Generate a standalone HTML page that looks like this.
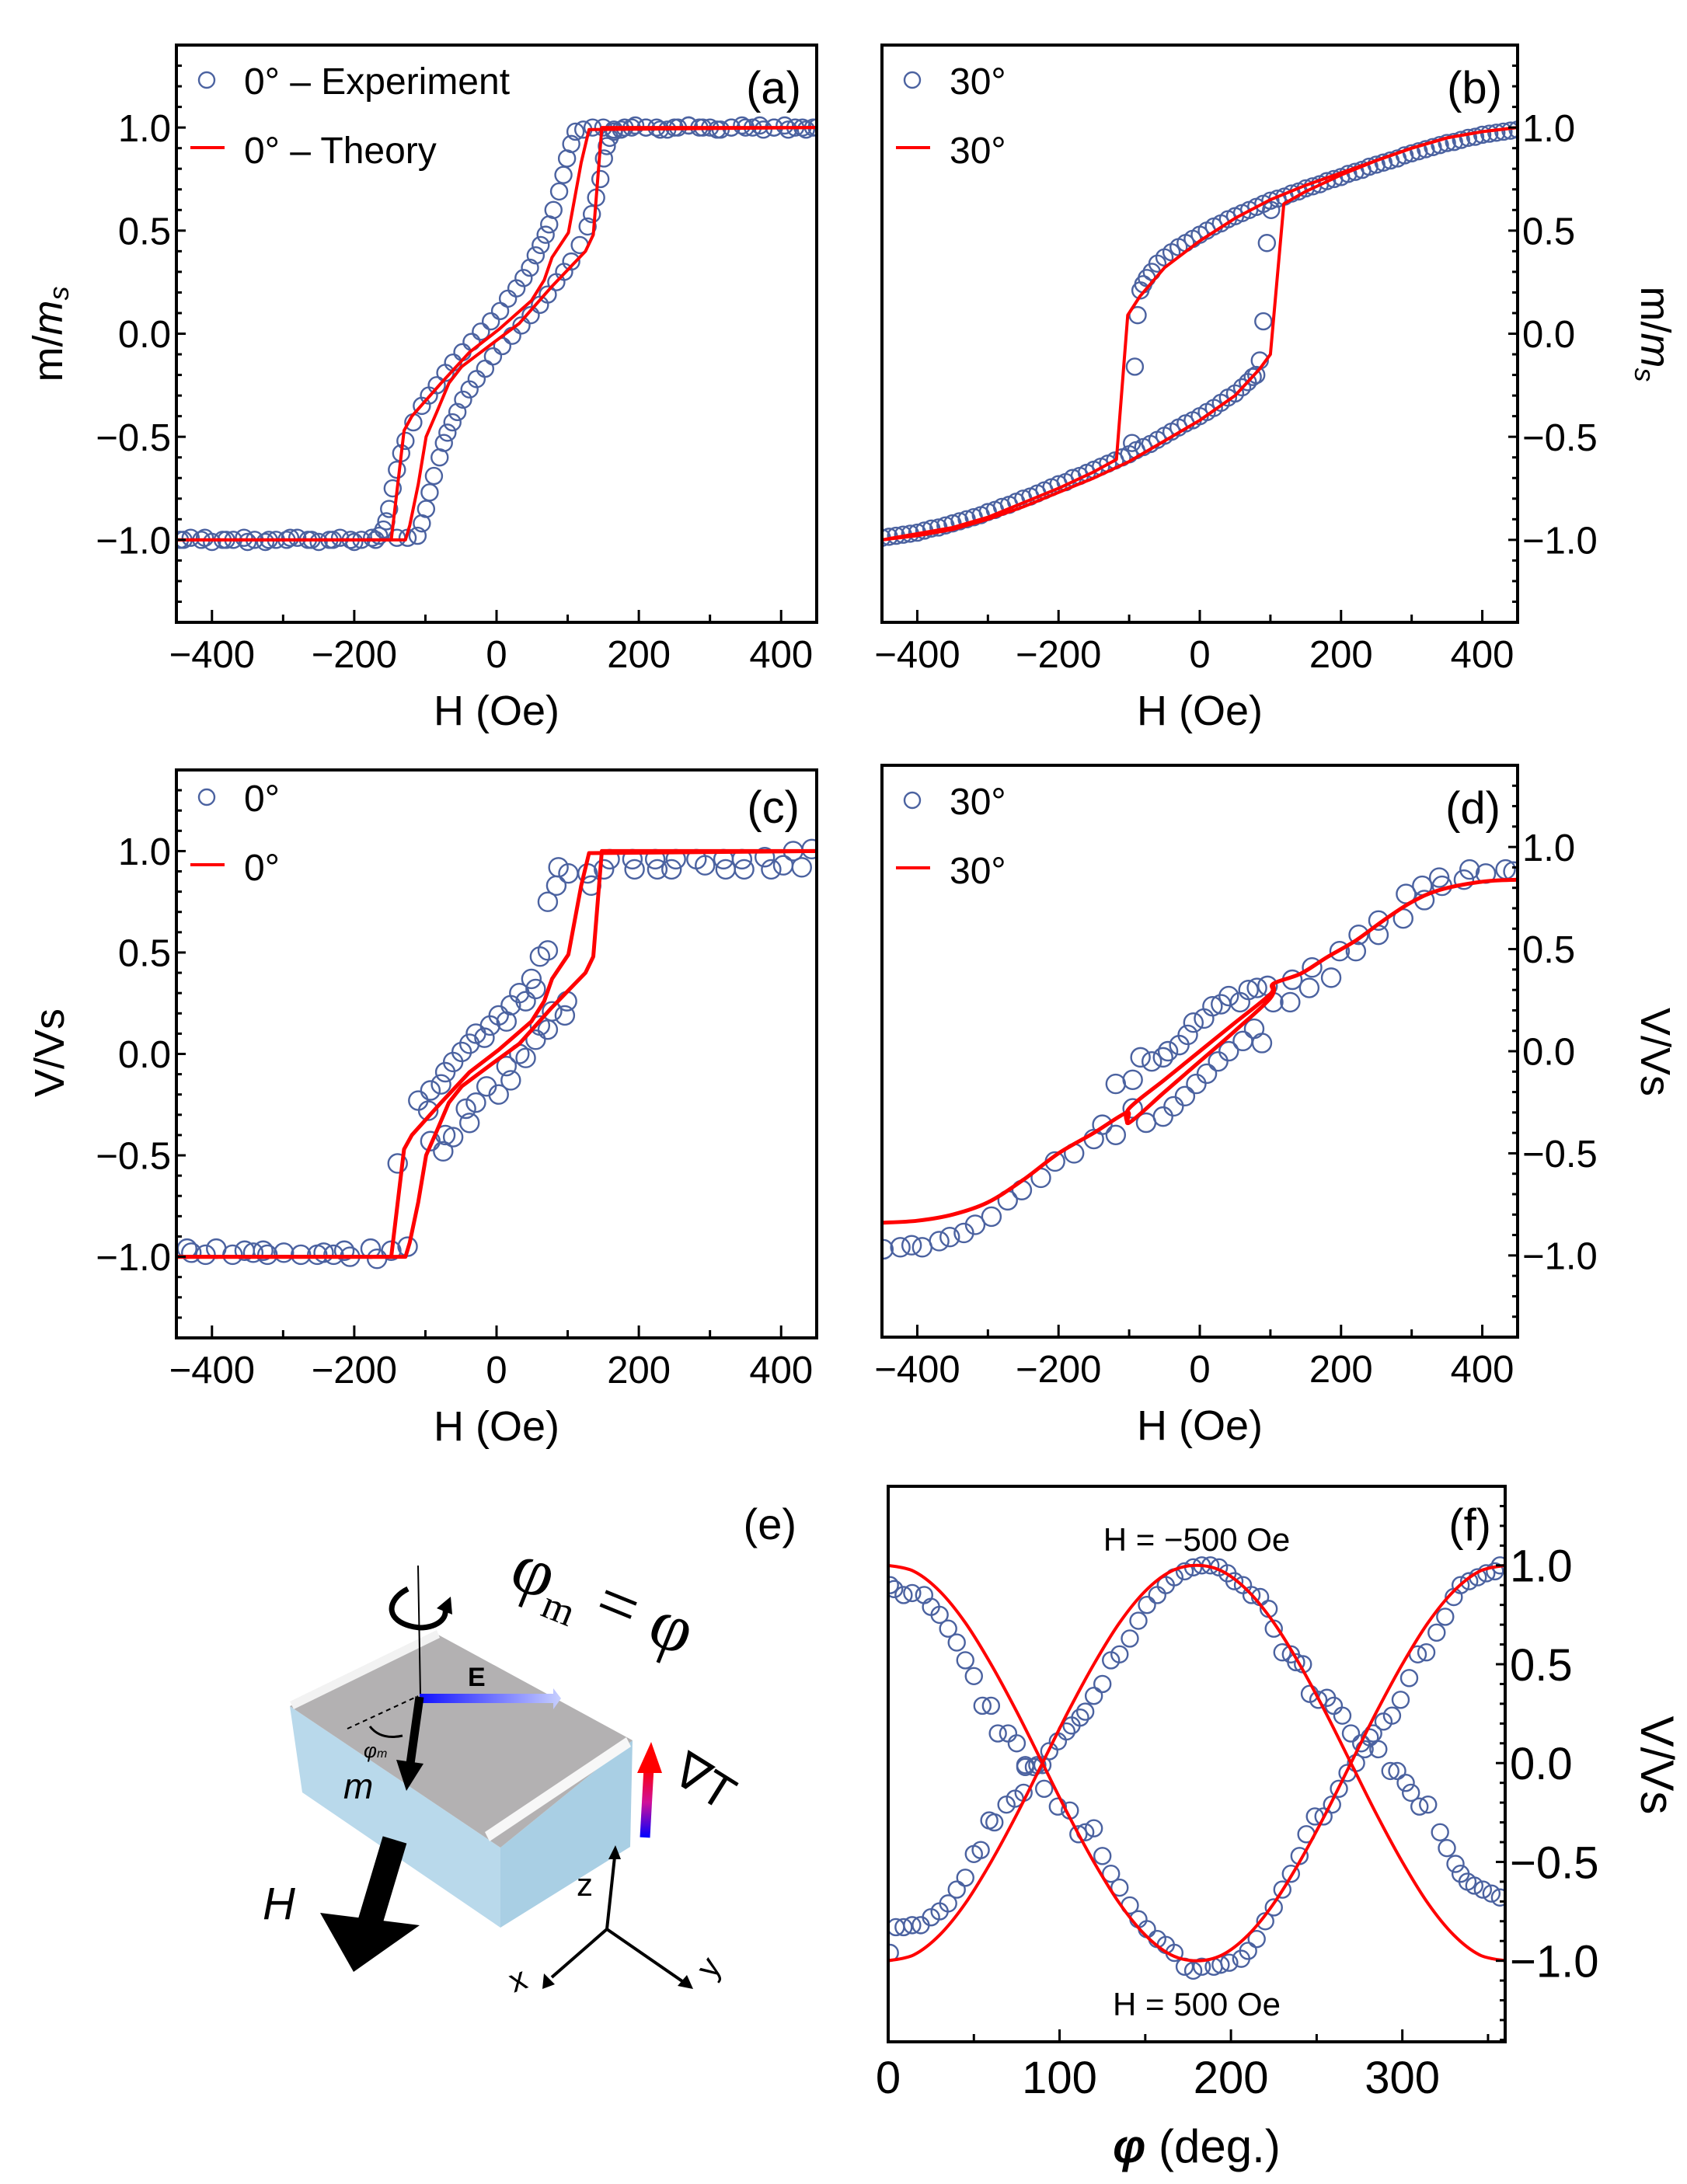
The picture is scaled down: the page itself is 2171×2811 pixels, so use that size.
<!DOCTYPE html>
<html><head><meta charset="utf-8"><title>Magnetization and voltage hysteresis panels</title>
<style>
html,body{margin:0;padding:0;background:#fff;}
svg{display:block;font-family:"Liberation Sans",Arial,sans-serif;}
</style></head>
<body>
<svg id="fig" xmlns="http://www.w3.org/2000/svg" width="2171" height="2811" viewBox="0 0 2171 2811">
<rect x="0" y="0" width="2171" height="2811" fill="#fff"/>
<defs>
<linearGradient id="gE" x1="0" y1="0" x2="1" y2="0"><stop offset="0" stop-color="#1010ff"/><stop offset="1" stop-color="#c8d0ff"/></linearGradient>
<linearGradient id="gT" x1="0" y1="1" x2="0" y2="0"><stop offset="0" stop-color="#0000ff"/><stop offset="0.5" stop-color="#d0109a"/><stop offset="1" stop-color="#ff0000"/></linearGradient>
</defs>
<g id="panel-e">
  <text x="1025" y="1981" font-size="56" text-anchor="end">(e)</text>
  <g transform="translate(652,2040) rotate(22)">
    <text x="0" y="0" font-size="92" font-family="Liberation Serif, serif">φ<tspan font-size="52" dy="20">m</tspan><tspan font-size="92" dy="-20"> = φ</tspan></text>
  </g>
  <polygon points="373,2196 644,2378 644,2481 389,2307" fill="#b9d9eb"/>
  <polygon points="644,2378 814,2240 811,2377 644,2481" fill="#a9cfe4"/>
  <polygon points="373,2196 562,2103 814,2240 644,2378" fill="#b3b1b2"/>
  <polygon points="373,2190 562,2098 566,2108 378,2200" fill="#f2f2f2"/>
  <polygon points="624,2358 806,2236 812,2248 630,2370" fill="#f7f7f7"/>
  <path d="M525,2045 C495,2060 495,2090 540,2095 C565,2095 580,2080 570,2065" fill="none" stroke="#000" stroke-width="7"/>
  <polygon points="562,2070 580,2055 582,2078" fill="#000"/>
  <line x1="538" y1="2015" x2="541" y2="2182" stroke="#000" stroke-width="2"/>
  <line x1="447" y1="2225" x2="538" y2="2183" stroke="#000" stroke-width="2" stroke-dasharray="6,5"/>
  <path d="M476,2222 Q490,2240 518,2234" fill="none" stroke="#000" stroke-width="3"/>
  <text x="468" y="2262" font-size="26" font-style="italic">φ<tspan font-size="16">m</tspan></text>
  <polygon points="540,2180 712,2180 712,2173 722,2186 712,2200 712,2192 540,2192" fill="url(#gE)"/>
  <text x="602" y="2170" font-size="34" font-weight="bold">E</text>
  <line x1="540" y1="2184" x2="528" y2="2270" stroke="#000" stroke-width="11"/>
  <polygon points="510,2265 545,2270 523,2305" fill="#000"/>
  <text x="442" y="2315" font-size="46" font-style="italic">m</text>
  <line x1="508" y1="2368" x2="476" y2="2475" stroke="#000" stroke-width="32"/>
  <polygon points="412,2462 540,2478 455,2538" fill="#000"/>
  <text x="338" y="2470" font-size="58" font-style="italic">H</text>
  <line x1="830" y1="2365" x2="835" y2="2275" stroke="url(#gT)" stroke-width="13"/>
  <polygon points="820,2282 852,2282 838,2242" fill="#ff0000"/>
  <text x="862" y="2290" font-size="62" transform="rotate(32 862 2290)">∇T</text>
  <line x1="781" y1="2483" x2="791" y2="2390" stroke="#000" stroke-width="4"/>
  <polygon points="783,2393 799,2393 792,2375" fill="#000"/>
  <text x="742" y="2440" font-size="42">z</text>
  <line x1="781" y1="2483" x2="710" y2="2545" stroke="#000" stroke-width="4"/>
  <polygon points="700,2540 714,2554 698,2560" fill="#000"/>
  <text x="655" y="2560" font-size="42" transform="rotate(-20 672 2545)">x</text>
  <line x1="781" y1="2483" x2="878" y2="2550" stroke="#000" stroke-width="4"/>
  <polygon points="872,2556 884,2542 892,2560" fill="#000"/>
  <text x="905" y="2545" font-size="42" transform="rotate(-55 915 2535)">y</text>
</g>
</svg>
<script>
// ===== Panel (a) data =====
const aExpDescH = [450,435,420,405,390,375,360,345,330,315,300,285,270,255,240,225,210,195,180,165,150,135,122,111,105,99,94,88,80,74,69,62,55,47,38,28,16,5,-8,-22,-35,-48,-61,-72,-84,-95,-105,-117,-128,-134,-140,-146,-151,-155,-159,-165,-175,-190,-205,-220,-235,-250,-265,-280,-295,-310,-325,-340,-355,-370,-385,-400,-415,-430,-445];
const aExpDescM = [1,0.99,1,1.01,1,0.99,1,1.01,1,0.99,1,1,1.01,1,0.99,1,1,1.01,1,0.99,1,1,0.99,0.98,0.92,0.85,0.77,0.69,0.6,0.53,0.48,0.43,0.38,0.32,0.27,0.22,0.17,0.11,0.06,0.01,-0.04,-0.09,-0.14,-0.19,-0.25,-0.3,-0.35,-0.43,-0.52,-0.58,-0.66,-0.75,-0.85,-0.91,-0.95,-0.98,-0.99,-1,-1,-0.99,-1,-1.01,-1,-0.99,-1,-1,-1.01,-1,-0.99,-1,-1,-1.01,-1,-0.99,-1];
const aExpAscH = [-440,-410,-380,-350,-320,-290,-260,-230,-200,-170,-140,-125,-111,-105,-99,-94,-88,-80,-74,-69,-62,-55,-47,-38,-28,-16,-5,8,22,35,48,61,72,84,95,105,117,128,134,140,146,151,155,159,165,175,190,210,230,250,270,290,310,330,350,370,390,410,430,445];
const aExpAscM = [-1,-0.99,-1,-1.01,-1,-0.99,-1,-1,-1.01,-1,-0.99,-0.99,-0.98,-0.92,-0.85,-0.77,-0.69,-0.6,-0.53,-0.48,-0.43,-0.38,-0.32,-0.27,-0.22,-0.17,-0.11,-0.06,-0.01,0.04,0.09,0.14,0.19,0.25,0.3,0.35,0.43,0.52,0.58,0.66,0.75,0.85,0.91,0.95,0.98,0.99,1,1,0.99,1,1.01,1,0.99,1,1,1.01,1,0.99,1,1];
const aThLeftH = [-450,-148,-130,-119,-78,-38,3,49,67,78,101,119,130,450];
const aThLeftM = [-1,-1,-0.47,-0.40,-0.24,-0.09,0.02,0.16,0.26,0.37,0.49,0.83,0.99,1];
const aThRightH = [450,148,136,125,78,32,-3,-49,-67,-84,-99,-110,-122,-128,-450];
const aThRightM = [1,1,0.48,0.4,0.23,0.05,-0.04,-0.16,-0.24,-0.38,-0.5,-0.73,-0.93,-1,-1];

// ===== Panel (b) data =====
const bExpUpH = [450,440,430,420,410,400,390,380,370,360,350,340,330,320,310,300,290,280,270,260,250,240,230,220,210,200,190,180,170,160,150,140,130,120,110,100,90,80,70,60,50,40,30,20,10,0,-10,-20,-30,-40,-50,-60,-68,-75,-80,-84,-88,-92,-96];
const bExpUpM = [0.99,0.985,0.98,0.975,0.97,0.965,0.955,0.95,0.94,0.93,0.925,0.915,0.905,0.895,0.885,0.875,0.865,0.85,0.84,0.83,0.82,0.81,0.795,0.785,0.775,0.76,0.75,0.74,0.725,0.715,0.705,0.69,0.68,0.665,0.655,0.645,0.63,0.615,0.6,0.585,0.57,0.555,0.535,0.52,0.5,0.48,0.46,0.44,0.42,0.395,0.37,0.34,0.3,0.27,0.24,0.21,0.09,-0.16,-0.53];
const bExpLowH = [-450,-440,-430,-420,-410,-400,-390,-380,-370,-360,-350,-340,-330,-320,-310,-300,-290,-280,-270,-260,-250,-240,-230,-220,-210,-200,-190,-180,-170,-160,-150,-140,-130,-120,-110,-100,-90,-80,-70,-60,-50,-40,-30,-20,-10,0,10,20,30,40,50,60,68,75,80,85,90,95,101];
const bExpLowM = [-0.99,-0.985,-0.98,-0.975,-0.97,-0.965,-0.955,-0.945,-0.94,-0.93,-0.92,-0.91,-0.9,-0.89,-0.88,-0.865,-0.855,-0.84,-0.83,-0.815,-0.8,-0.79,-0.775,-0.76,-0.745,-0.73,-0.72,-0.7,-0.69,-0.675,-0.66,-0.645,-0.63,-0.615,-0.6,-0.585,-0.565,-0.55,-0.535,-0.515,-0.495,-0.475,-0.455,-0.435,-0.42,-0.4,-0.38,-0.36,-0.335,-0.31,-0.29,-0.26,-0.235,-0.21,-0.2,-0.13,0.06,0.44,0.6];
const bThUpH = [450,400,350,300,250,200,150,100,50,0,-50,-85,-102,-118,-150,-200,-250,-300,-350,-400,-450];
const bThUpM = [1,0.98,0.95,0.9,0.84,0.78,0.72,0.65,0.56,0.45,0.32,0.18,0.09,-0.61,-0.67,-0.75,-0.82,-0.89,-0.94,-0.97,-1];
const bThLowH = [-450,-400,-350,-300,-250,-200,-150,-100,-50,0,50,85,100,119,150,200,250,300,350,400,450];
const bThLowM = [-1,-0.98,-0.95,-0.9,-0.84,-0.77,-0.7,-0.62,-0.52,-0.42,-0.3,-0.17,-0.1,0.63,0.69,0.77,0.84,0.9,0.95,0.98,1];

// ===== Panel (c) data =====
const cExpH = [-435,-429,-409,-394,-371,-354,-342,-328,-322,-299,-275,-252,-243,-229,-214,-206,-177,-168,-148,-125,
  159,191,194,223,226,246,252,281,293,319,322,345,348,377,386,403,417,429,443,
  72,84,87,101,128,133,151,
  -110,-96,-93,-78,-72,-61,-49,-38,-29,-17,-9,3,14,20,32,41,49,55,61,72,-139,
  -93,-75,-72,-61,-43,-38,-29,-14,3,14,20,32,41,55,61,72,78,96,99];
const cExpV = [-0.96,-0.98,-0.99,-0.96,-0.99,-0.97,-0.98,-0.97,-0.99,-0.98,-0.99,-0.99,-0.98,-0.99,-0.97,-1.0,-0.96,-1.01,-0.97,-0.95,
  0.96,0.96,0.91,0.96,0.91,0.91,0.96,0.96,0.93,0.96,0.91,0.96,0.91,0.97,0.91,0.93,1.0,0.92,1.01,
  0.75,0.83,0.92,0.89,0.89,0.83,0.91,
  -0.23,-0.28,-0.18,-0.15,-0.09,-0.04,0.01,0.05,0.1,0.08,0.14,0.19,0.16,0.24,0.3,0.26,0.37,0.32,0.48,0.51,-0.54,
  -0.43,-0.48,-0.4,-0.41,-0.27,-0.34,-0.24,-0.16,-0.2,-0.06,-0.13,0,-0.02,0.07,0.14,0.12,0.21,0.19,0.26];
const cThLeftH = [-450,-148,-130,-119,-78,-38,3,49,67,78,101,119,130,450];
const cThLeftV = [-1,-1,-0.47,-0.40,-0.24,-0.09,0.02,0.16,0.26,0.37,0.49,0.83,0.99,1];
const cThRightH = [450,148,136,125,78,32,-3,-49,-67,-84,-99,-110,-122,-128,-450];
const cThRightV = [1,1,0.48,0.4,0.23,0.05,-0.04,-0.16,-0.24,-0.38,-0.5,-0.73,-0.93,-1,-1];

// ===== Panel (d) data =====
const dExpH = [-448,-424,-408,-393,-369,-354,-334,-318,-295,-272,-252,-225,-205,-178,-150,-138,-119,-119,-95,-84,-68,-52,-45,-29,-17,-9,6,18,30,41,57,69,81,96,-95,-76,-52,-37,-21,-5,10,26,41,61,77,88,104,128,131,155,159,186,198,221,225,253,253,288,292,315,318,339,343,374,382,405,433,444];
const dExpV = [-0.97,-0.96,-0.95,-0.96,-0.93,-0.91,-0.89,-0.85,-0.81,-0.73,-0.68,-0.62,-0.54,-0.5,-0.43,-0.36,-0.41,-0.16,-0.14,-0.03,-0.05,-0.03,0,0.03,0.08,0.14,0.16,0.22,0.23,0.27,0.24,0.3,0.31,0.32,-0.28,-0.35,-0.32,-0.27,-0.22,-0.16,-0.11,-0.05,0,0.05,0.11,0.04,0.24,0.24,0.35,0.31,0.41,0.36,0.49,0.49,0.57,0.57,0.64,0.65,0.77,0.81,0.74,0.85,0.81,0.84,0.89,0.87,0.89,0.88];
const dThDescH = [450,400,340,300,260,220,180,143,104,100,50,0,-50,-100,-103];
const dThDescV = [0.84,0.83,0.79,0.73,0.64,0.54,0.46,0.38,0.33,0.28,0.14,0,-0.14,-0.28,-0.35];
const dThAscH = [-450,-400,-350,-300,-250,-200,-150,-103,-100,-50,0,50,100,104];
const dThAscV = [-0.84,-0.83,-0.8,-0.74,-0.63,-0.5,-0.4,-0.3,-0.35,-0.2,-0.05,0.1,0.26,0.33];

// ===== Panel (f) data =====
const fExpAPhi = [1,3.5,9,14,21,25,30,35,40,45,50,55,60,64,70,75,80,87,91,99,106,111,115,120,125,130,135,141,146,151,157,162,167,173,178,183,190,194,199,206,210,215,220,225,230,235,240,244,249,254,259,263,268,273,278,283,289,294,299,304,309,314,320,325,330,334,339,344,349,354,357];
const fExpAV = [0.9,0.88,0.85,0.86,0.85,0.79,0.75,0.68,0.61,0.52,0.44,0.29,0.29,0.15,0.15,0.1,-0.01,-0.01,-0.13,-0.22,-0.24,-0.36,-0.35,-0.33,-0.47,-0.56,-0.63,-0.72,-0.79,-0.84,-0.89,-0.92,-0.96,-1.03,-1.05,-1.03,-1.03,-1.02,-1.01,-0.99,-0.95,-0.89,-0.8,-0.73,-0.64,-0.56,-0.47,-0.36,-0.27,-0.27,-0.21,-0.13,-0.05,0,0.07,0.15,0.21,0.24,0.32,0.43,0.55,0.56,0.66,0.74,0.84,0.9,0.92,0.94,0.96,0.97,1.0];
const fExpBPhi = [1,4.5,9,14,19,25,30,35,40,45,50,54,59,62,69,74,79,80,85,90,94,99,104,107,112,115,120,125,130,135,141,146,151,157,162,167,173,178,183,188,193,198,202,207,212,217,222,225,230,235,238,242,246,251,256,260,265,270,276,281,286,293,297,302,305,310,315,322,326,331,334,338,342,347,352,357];
const fExpBV = [-0.96,-0.83,-0.83,-0.82,-0.82,-0.78,-0.75,-0.71,-0.64,-0.58,-0.46,-0.44,-0.29,-0.3,-0.21,-0.18,-0.15,-0.02,-0.02,-0.01,0.06,0.11,0.16,0.19,0.23,0.26,0.34,0.4,0.52,0.55,0.63,0.72,0.8,0.85,0.9,0.94,0.97,0.99,1.0,1.0,0.99,0.96,0.92,0.9,0.85,0.84,0.78,0.68,0.56,0.55,0.51,0.5,0.35,0.32,0.33,0.29,0.24,0.15,0.1,0.13,0.07,-0.04,-0.04,-0.1,-0.15,-0.22,-0.21,-0.35,-0.43,-0.51,-0.56,-0.6,-0.62,-0.64,-0.66,-0.68];
const fThPhi = [0,15,30,45,60,75,90,105,120,135,150,165,180,195,210,225,240,255,270,285,300,315,330,345,360];
const fThA = [1,0.97,0.87,0.71,0.5,0.26,0,-0.26,-0.5,-0.71,-0.87,-0.97,-1,-0.97,-0.87,-0.71,-0.5,-0.26,0,0.26,0.5,0.71,0.87,0.97,1];
const fThB = [-1,-0.97,-0.87,-0.71,-0.5,-0.26,0,0.26,0.5,0.71,0.87,0.97,1,0.97,0.87,0.71,0.5,0.26,0,-0.26,-0.5,-0.71,-0.87,-0.97,-1];

// ===== Tick labels =====
const hTickVals = [-400,-200,0,200,400];
const hTickLabels = ["−400","−200","0","200","400"];
const yTickVals = [-1,-0.5,0,0.5,1];
const yTickLabels = ["−1.0","−0.5","0.0","0.5","1.0"];
const phiTickVals = [0,100,200,300];
const phiTickLabels = ["0","100","200","300"];

const NS = "http://www.w3.org/2000/svg";
const svg = document.getElementById('fig');
const BLUE = "#4b62a0", RED = "#ff0000";

function mk(parent, tag, attrs) {
  const e = document.createElementNS(NS, tag);
  for (const k in attrs) e.setAttribute(k, attrs[k]);
  parent.appendChild(e);
  return e;
}
function linScale(d0, d1, r0, r1) { return v => r0 + (v - d0) * (r1 - r0) / (d1 - d0); }

function makePanel(p) {
  const g = mk(svg, 'g', {});
  
  
  p.g = g;
  p.sx = linScale(p.xd[0], p.xd[1], p.l, p.r);
  p.sy = linScale(p.yd[0], p.yd[1], p.b, p.t);
  const clipId = 'clip-' + p.name;
  const cp = mk(svg, 'clipPath', {id: clipId});
  mk(cp, 'rect', {x: p.l, y: p.t, width: p.r - p.l, height: p.b - p.t});
  p.plot = mk(g, 'g', {'clip-path': 'url(#' + clipId + ')'});
  
  
  return p;
}
function drawFrame(p) {
  const fr = mk(p.g, 'rect', {x: p.l, y: p.t, width: p.r - p.l, height: p.b - p.t, fill: 'none', stroke: '#000', 'stroke-width': 4});
  
  
  for (let v = p.xMinorStart; v <= p.xd[1]; v += p.xMinor) {
    if (v < p.xd[0]) continue;
    const major = Math.abs((v / p.xMajor) - Math.round(v / p.xMajor)) < 1e-6;
    const x = p.sx(v);
    const t = mk(p.g, 'line', {x1: x, x2: x, y1: p.b, y2: p.b - (major ? 16 : 10), stroke: '#000', 'stroke-width': 3});
    
    
  }
  p.xTickVals.forEach((v, i) => {
    const t = mk(p.g, 'text', {x: p.sx(v), y: p.b + p.xLabOff, 'font-size': p.fs, 'text-anchor': 'middle'});
    t.textContent = p.xTickLabels[i];
    
    
  });
  const yside = p.ySide === 'left' ? p.l : p.r;
  const dir = p.ySide === 'left' ? 1 : -1;
  for (let k = -14; k <= 14; k++) {
    const v = k / 10;
    const y = p.sy(v);
    if (y < p.t + 2 || y > p.b - 2) continue;
    const major = k % 5 === 0;
    const t = mk(p.g, 'line', {x1: yside, x2: yside + dir * (major ? 12 : 7), y1: y, y2: y, stroke: '#000', 'stroke-width': 3});
    
    
  }
  yTickVals.forEach((v, i) => {
    const t = mk(p.g, 'text', {x: p.ySide === 'left' ? p.l - 7 : p.r + 6, y: p.sy(v) + p.fs * 0.36, 'font-size': p.fs, 'text-anchor': p.ySide === 'left' ? 'end' : 'start'});
    t.textContent = yTickLabels[i];
    
    
  });
}
function drawLine(p, xs, ys, name, w, smooth) {
  const n = Math.min(xs.length, ys.length);
  const pts = [];
  for (let i = 0; i < n; i++) pts.push([p.sx(xs[i]), p.sy(ys[i])]);
  let d = 'M' + pts[0][0] + ',' + pts[0][1];
  if (smooth) {
    for (let i = 0; i < n - 1; i++) {
      const p0 = pts[Math.max(i - 1, 0)], p1 = pts[i], p2 = pts[i + 1], p3 = pts[Math.min(i + 2, n - 1)];
      const c1 = [p1[0] + (p2[0] - p0[0]) / 6, p1[1] + (p2[1] - p0[1]) / 6];
      const c2 = [p2[0] - (p3[0] - p1[0]) / 6, p2[1] - (p3[1] - p1[1]) / 6];
      d += ' C' + c1.join(',') + ' ' + c2.join(',') + ' ' + p2.join(',');
    }
  } else {
    for (let i = 1; i < n; i++) d += ' L' + pts[i][0] + ',' + pts[i][1];
  }
  const e = mk(p.plot, 'path', {d: d, fill: 'none', stroke: RED, 'stroke-width': w, 'stroke-linejoin': 'round'});
  
  
}
function drawPoints(p, xs, ys, name, r) {
  const g = mk(p.plot, 'g', {});
  
  
  const n = Math.min(xs.length, ys.length);
  for (let i = 0; i < n; i++) {
    const c = mk(g, 'circle', {cx: p.sx(xs[i]), cy: p.sy(ys[i]), r: r, fill: 'none', stroke: BLUE, 'stroke-width': 2.4});
    
    
  }
}
function textAt(parent, x, y, fs, str, name, anchor, extra) {
  const t = mk(parent, 'text', Object.assign({x: x, y: y, 'font-size': fs, 'text-anchor': anchor || 'start'}, extra || {}));
  t.textContent = str;
  
  
  return t;
}
function legend(p, l1, l2, off) {
  const o = off || 0;
  const c = mk(p.g, 'circle', {cx: p.l + 39, cy: p.t + 45 - o, r: 10, fill: 'none', stroke: BLUE, 'stroke-width': 2.4});
  
  
  textAt(p.g, p.l + 87, p.t + 63 - o, 48, l1, 'legend-experiment-label');
  const ln = mk(p.g, 'line', {x1: p.l + 18, x2: p.l + 62, y1: p.t + 132 - o, y2: p.t + 132 - o, stroke: RED, 'stroke-width': 4});
  
  
  textAt(p.g, p.l + 87, p.t + 152 - o, 48, l2, 'legend-theory-label');
}
function yTitle(p, x, y, side, html, fs) {
  const t = mk(p.g, 'text', {x: x, y: y, 'font-size': fs, 'text-anchor': 'middle', transform: 'rotate(' + (side === 'left' ? -90 : 90) + ' ' + x + ' ' + y + ')'});
  t.innerHTML = html;
  
  
}

const hPanel = (name, l, r, t, b, side) => makePanel({name, l, r, t, b, xd: [-450, 450], yd: [-1.4, 1.4], xMajor: 200, xMinor: 100, xMinorStart: -400, xTickVals: hTickVals, xTickLabels: hTickLabels, ySide: side, fs: 49, xLabOff: 58});

const pa = hPanel('panel-a', 227, 1051, 58, 801, 'left');
drawPoints(pa, aExpDescH, aExpDescM, 'experiment-0deg-descending', 10.5);
drawPoints(pa, aExpAscH, aExpAscM, 'experiment-0deg-ascending', 10.5);
drawLine(pa, aThLeftH, aThLeftM, 'theory-0deg-left-branch', 4);
drawLine(pa, aThRightH, aThRightM, 'theory-0deg-right-branch', 4);
drawFrame(pa);
legend(pa, '0° – Experiment', '0° – Theory');
textAt(pa.g, pa.r - 20, pa.t + 75, 58, '(a)', 'panel-label-a', 'end');
textAt(pa.g, 639, pa.b + 132, 54, 'H (Oe)', 'x-axis-title', 'middle');
yTitle(pa, 80, 430, 'left', 'm/<tspan font-style="italic">m</tspan><tspan font-style="italic" font-size="36" dy="8">s</tspan>', 54);

const pb = hPanel('panel-b', 1135, 1953, 58, 801, 'right');
drawPoints(pb, bExpUpH, bExpUpM, 'experiment-30deg-upper', 10.5);
drawPoints(pb, bExpLowH, bExpLowM, 'experiment-30deg-lower', 10.5);
drawLine(pb, bThUpH, bThUpM, 'theory-30deg-upper-branch', 4);
drawLine(pb, bThLowH, bThLowM, 'theory-30deg-lower-branch', 4);
drawFrame(pb);
legend(pb, '30°', '30°');
textAt(pb.g, pb.r - 20, pb.t + 75, 58, '(b)', 'panel-label-b', 'end');
textAt(pb.g, 1544, pb.b + 132, 54, 'H (Oe)', 'x-axis-title', 'middle');
yTitle(pb, 2112, 430, 'right', 'm/<tspan font-style="italic">m</tspan><tspan font-style="italic" font-size="36" dy="8">s</tspan>', 54);

const pc = hPanel('panel-c', 227, 1051, 991, 1722, 'left');
drawPoints(pc, cExpH, cExpV, 'experiment-0deg-voltage', 12);
drawLine(pc, cThLeftH, cThLeftV, 'theory-0deg-left-branch', 5);
drawLine(pc, cThRightH, cThRightV, 'theory-0deg-right-branch', 5);
drawFrame(pc);
legend(pc, '0°', '0°', 10);
textAt(pc.g, pc.r - 22, pc.t + 68, 58, '(c)', 'panel-label-c', 'end');
textAt(pc.g, 639, pc.b + 132, 54, 'H (Oe)', 'x-axis-title', 'middle');
yTitle(pc, 82, 1355, 'left', 'V/Vs', 54);

const pd = hPanel('panel-d', 1135, 1953, 985, 1721, 'right');
drawPoints(pd, dExpH, dExpV, 'experiment-30deg-voltage', 12);
drawLine(pd, dThDescH, dThDescV, 'theory-30deg-descending', 5, true);
drawLine(pd, dThAscH, dThAscV, 'theory-30deg-ascending', 5, true);
drawFrame(pd);
legend(pd, '30°', '30°');
textAt(pd.g, pd.r - 22, pd.t + 75, 58, '(d)', 'panel-label-d', 'end');
textAt(pd.g, 1544, pd.b + 132, 54, 'H (Oe)', 'x-axis-title', 'middle');
yTitle(pd, 2112, 1354, 'right', 'V/Vs', 54);

const pf = makePanel({name: 'panel-f', l: 1143, r: 1937, t: 1913, b: 2628, xd: [0, 360], yd: [-1.41, 1.40], xMajor: 100, xMinor: 50, xMinorStart: 0, xTickVals: phiTickVals, xTickLabels: phiTickLabels, ySide: 'right', fs: 58, xLabOff: 66});
drawPoints(pf, fExpAPhi, fExpAV, 'experiment-H-500-series', 10.5);
drawPoints(pf, fExpBPhi, fExpBV, 'experiment-H-minus500-series', 10.5);
drawLine(pf, fThPhi, fThA, 'theory-H-500', 4, true);
drawLine(pf, fThPhi, fThB, 'theory-H-minus500', 4, true);
drawFrame(pf);
textAt(pf.g, pf.r - 18, pf.t + 70, 58, '(f)', 'panel-label-f', 'end');
textAt(pf.g, 1540, 1996, 42, 'H = −500 Oe', 'annotation-H-minus500', 'middle');
textAt(pf.g, 1540, 2594, 42, 'H = 500 Oe', 'annotation-H-500', 'middle');
const ft = mk(pf.g, 'text', {x: 1540, y: 2783, 'font-size': 60, 'text-anchor': 'middle'});
ft.innerHTML = '<tspan font-style="italic" font-weight="bold">φ</tspan> (deg.)';


yTitle(pf, 2112, 2272, 'right', 'V/Vs', 60);
</script>
</body></html>
